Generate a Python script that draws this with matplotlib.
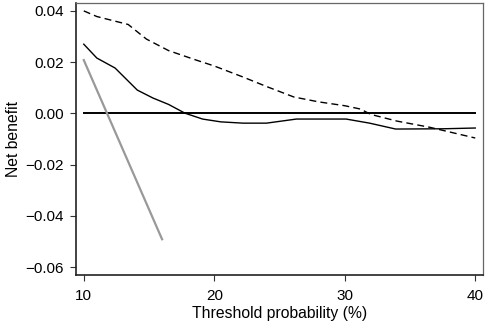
import numpy as np
import matplotlib
matplotlib.use("Agg")
import matplotlib.pyplot as plt

plt.rcParams['font.family'] = ['Liberation Sans', 'DejaVu Sans']

# treat-all style curve (dashed)
x_dash = [10, 11, 12, 13.4, 14.8, 16.5, 18.5, 20, 22.2, 24, 26.1, 28, 30, 31.2, 32, 34, 36.5, 38, 40]
y_dash = [0.0400, 0.0378, 0.0365, 0.0347, 0.0290, 0.0245, 0.0210, 0.0185, 0.0142, 0.0105, 0.0064, 0.0045, 0.0030, 0.0017, -0.0004, -0.0030, -0.0054, -0.0072, -0.0096]

# model curve (solid)
x_model = [10, 11, 12.4, 14.1, 15.3, 16.5, 17.75, 19.1, 20.5, 22.2, 24, 26.3, 30.1, 31.9, 33.9, 37.5, 40]
y_model = [0.0270, 0.0216, 0.0177, 0.0091, 0.0060, 0.0035, 0.0001, -0.0022, -0.0033, -0.0038, -0.0038, -0.0022, -0.0022, -0.0038, -0.0061, -0.0060, -0.0057]

# grey line
x_grey = [10, 16]
y_grey = [0.0208, -0.0491]

# treat none
x_none = [10, 40]
y_none = [0, 0]

fig = plt.figure(figsize=(4.86, 3.26), dpi=100)
ax = fig.add_axes([0.156, 0.156, 0.838, 0.835])

ax.plot(x_none, y_none, color='black', lw=1.4)
ax.plot(x_dash, y_dash, color='black', lw=1.0, ls=(0, (5, 3)))
ax.plot(x_model, y_model, color='black', lw=1.0)
ax.plot(x_grey, y_grey, color='#999999', lw=1.6)

ax.set_xlim(9.39, 40.6)
ax.set_ylim(-0.0631, 0.0431)
ax.set_xticks([10, 20, 30, 40])
ax.set_yticks([0.04, 0.02, 0.0, -0.02, -0.04, -0.06])
ax.set_yticklabels(['0.04', '0.02', '0.00', '\u22120.02', '\u22120.04', '\u22120.06'])
ax.tick_params(labelsize=11, length=4.3, width=0.8, color='#333333')
ax.tick_params(axis='y', pad=4.5)
ax.tick_params(axis='x', pad=6)

for s in ['left', 'bottom']:
    ax.spines[s].set_color('#222222')
    ax.spines[s].set_linewidth(1.2)
for s in ['top', 'right']:
    ax.spines[s].set_color('#666666')
    ax.spines[s].set_linewidth(0.9)

ax.set_xlabel('Threshold probability (%)', fontsize=11.3, labelpad=2)
ax.set_ylabel('Net benefit', fontsize=11.3, labelpad=3)

fig.savefig('out.png', dpi=100)
